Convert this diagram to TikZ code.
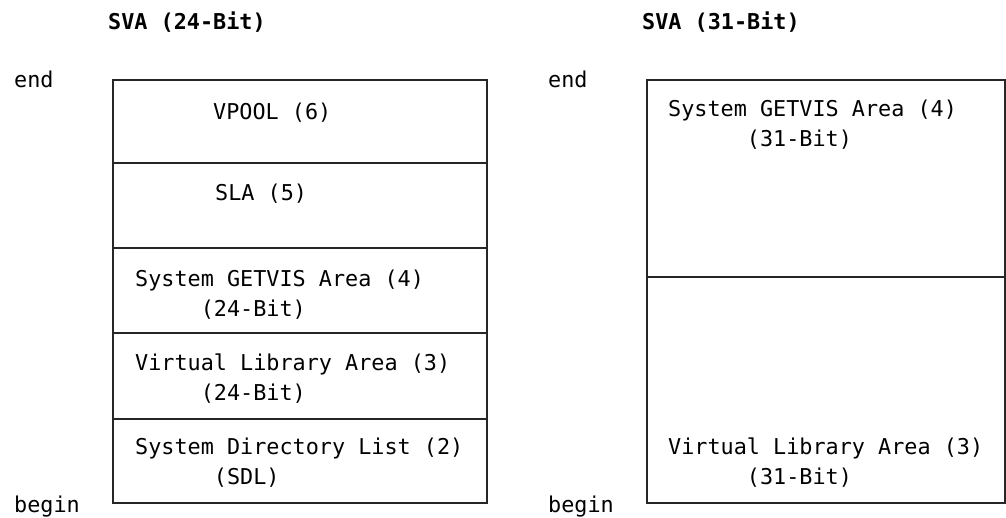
\documentclass[tikz,border=0pt]{standalone}
\usepackage{fontspec}
\newfontfamily\svafont{DejaVu Sans Mono}
\newcommand\pad[1]{\hphantom{#1}}
\begin{document}
\begin{tikzpicture}[x=1pt,y=-1pt]
\tikzset{area/.style={anchor=base west, inner sep=0pt, align=left, font=\svafont\fontsize{21.8}{30}\selectfont},
 title/.style={area, font=\svafont\bfseries\fontsize{21.8}{30}\selectfont},
 frame/.style={draw=black!85, line width=1.3pt}}
\useasboundingbox (0,0) rectangle (1006,517);
% 24-bit side
\draw[frame] (113,80) rectangle (487,503);
\draw[frame] (113,163) -- (487,163);
\draw[frame] (113,248) -- (487,248);
\draw[frame] (113,333) -- (487,333);
\draw[frame] (113,419) -- (487,419);
\node[title] (t24) at (108,29) {SVA (24-Bit)};
\node[area] (end24) at (14,87) {end};
\node[area] (begin24) at (14,512) {begin};
\node[area] (vpool) at (213,119) {VPOOL (6)};
\node[area] (sla) at (215,200) {SLA (5)};
% base of a two-line node is its last line
\node[area] (gv24) at (135,316) {System GETVIS Area (4)\\\pad{00000}(24-Bit)};
\node[area] (vla24) at (135,400) {Virtual Library Area (3)\\\pad{00000}(24-Bit)};
\node[area] (sdl) at (135,484) {System Directory List (2)\\\pad{000000}(SDL)};
% 31-bit side
\draw[frame] (647,80) rectangle (1005,503);
\draw[frame] (647,277) -- (1005,277);
\node[title] (t31) at (642,29) {SVA (31-Bit)};
\node[area] (end31) at (548,87) {end};
\node[area] (begin31) at (548,512) {begin};
\node[area] (gv31) at (668,146) {System GETVIS Area (4)\\\pad{000000}(31-Bit)};
\node[area] (vla31) at (668,484) {Virtual Library Area (3)\\\pad{000000}(31-Bit)};
\end{tikzpicture}
\end{document}
